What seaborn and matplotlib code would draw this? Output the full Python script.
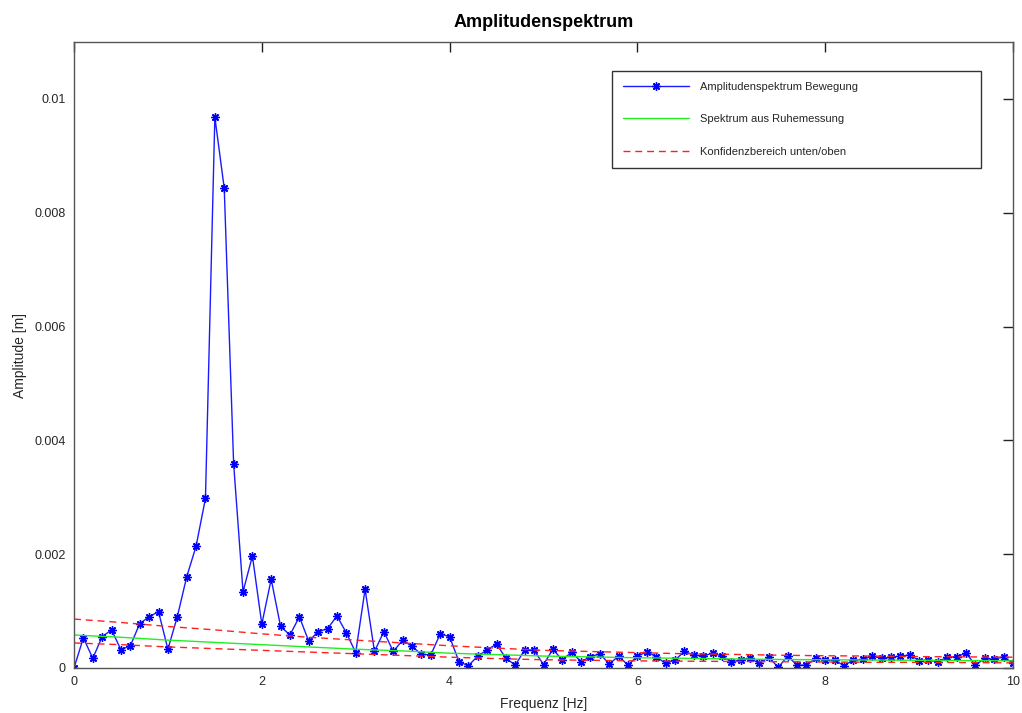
import numpy as np
import pandas as pd
import matplotlib
matplotlib.use("Agg")
import matplotlib.pyplot as plt
import seaborn as sns

# ---------------- data ----------------
freq_step = 0.1
# amplitude spectrum of the movement (values in 1e-3 m), 0 .. 10 Hz in 0.1 Hz steps
amp_mm = [0.00, 0.53, 0.17, 0.55, 0.67, 0.32, 0.39, 0.78, 0.90, 0.99,
          0.33, 0.90, 1.60, 2.14, 2.98, 9.68, 8.43, 3.59, 1.34, 1.97,
          0.77, 1.56, 0.73, 0.58, 0.90, 0.47, 0.64, 0.69, 0.915, 0.62,
          0.27, 1.385, 0.29, 0.64, 0.29, 0.49, 0.38, 0.24, 0.23, 0.60,
          0.55, 0.11, 0.04, 0.21, 0.32, 0.42, 0.17, 0.05, 0.32, 0.31,
          0.06, 0.33, 0.14, 0.28, 0.11, 0.20, 0.25, 0.07, 0.21, 0.05,
          0.21, 0.28, 0.20, 0.08, 0.14, 0.29, 0.23, 0.21, 0.26, 0.21,
          0.11, 0.14, 0.17, 0.08, 0.19, 0.01, 0.21, 0.05, 0.05, 0.17,
          0.14, 0.14, 0.04, 0.14, 0.15, 0.21, 0.17, 0.19, 0.21, 0.23,
          0.13, 0.14, 0.11, 0.19, 0.20, 0.26, 0.05, 0.17, 0.15, 0.20,
          0.08]

# rest-measurement spectrum and confidence band (values in 1e-3 m)
ref_freq = [0.0, 0.5, 1.0, 1.5, 2.0, 2.5, 3.0, 3.5, 4.0, 4.5, 5.0,
            5.5, 6.0, 6.5, 7.0, 7.5, 8.0, 8.5, 9.0, 9.5, 10.0]
rest_mm = [0.58, 0.54, 0.49, 0.45, 0.41, 0.37, 0.33, 0.30, 0.26, 0.235, 0.21,
           0.195, 0.18, 0.17, 0.16, 0.15, 0.145, 0.14, 0.135, 0.13, 0.125]
upper_mm = [0.86, 0.80, 0.73, 0.67, 0.60, 0.54, 0.49, 0.44, 0.39, 0.35, 0.31,
            0.29, 0.27, 0.25, 0.24, 0.225, 0.215, 0.21, 0.20, 0.195, 0.19]
lower_mm = [0.44, 0.41, 0.37, 0.34, 0.31, 0.28, 0.25, 0.22, 0.19, 0.165, 0.145,
            0.135, 0.125, 0.12, 0.115, 0.11, 0.105, 0.10, 0.10, 0.095, 0.09]

y_ticks = [0, 0.002, 0.004, 0.006, 0.008, 0.01]
y_tick_labels = ["0", "0.002", "0.004", "0.006", "0.008", "0.01"]
x_ticks = [0, 2, 4, 6, 8, 10]
x_tick_labels = ["0", "2", "4", "6", "8", "10"]

labels = ["Amplitudenspektrum Bewegung", "Spektrum aus Ruhemessung",
          "Konfidenzbereich unten/oben"]

# ---------------- frames ----------------
freq = np.round(np.arange(len(amp_mm)) * freq_step, 1)
df_amp = pd.DataFrame({"f": freq, "a": np.array(amp_mm) * 1e-3})
df_ref = pd.DataFrame({"f": ref_freq,
                       "rest": np.array(rest_mm) * 1e-3,
                       "up": np.array(upper_mm) * 1e-3,
                       "low": np.array(lower_mm) * 1e-3})

# ---------------- style ----------------
sns.set_theme(style="white")
plt.rcParams["font.family"] = ["Liberation Sans", "DejaVu Sans"]

fig = plt.figure(figsize=(10.22, 7.13), dpi=100)
ax = fig.add_axes([74 / 1022, 45 / 713, 939 / 1022, 626 / 713])

sns.lineplot(data=df_amp, x="f", y="a", ax=ax, color="#1a1aff", lw=1.0,
             marker=(8, 2, 0), markersize=6, markeredgewidth=1.0,
             markeredgecolor="#0000ff", label=labels[0], sort=False)
sns.lineplot(data=df_ref, x="f", y="rest", ax=ax, color="#22ee22", lw=1.0,
             label=labels[1], sort=False)
sns.lineplot(data=df_ref, x="f", y="up", ax=ax, color="#ff2020", lw=1.0,
             label=labels[2], sort=False)
sns.lineplot(data=df_ref, x="f", y="low", ax=ax, color="#ff2020", lw=1.0,
             sort=False)
for ln in ax.lines[2:4]:
    ln.set_linestyle((0, (5, 3.5)))

ax.set_xlim(0, 10)
ax.set_ylim(0, 0.011)
ax.set_xticks(x_ticks)
ax.set_xticklabels(x_tick_labels)
ax.set_yticks(y_ticks)
ax.set_yticklabels(y_tick_labels)

for s in ax.spines.values():
    s.set_visible(True)
    s.set_color("#555555")
    s.set_linewidth(1.0)
ax.tick_params(axis="both", which="major", direction="in", length=7,
               width=1.0, color="#222222", labelsize=9, labelcolor="#262626",
               top=True, right=True, pad=6)

ax.set_xlabel("Frequenz [Hz]", fontsize=10, color="#262626", labelpad=6)
ax.set_ylabel("Amplitude [m]", fontsize=10, color="#262626", labelpad=5)
ax.set_title("Amplitudenspektrum", fontsize=13, fontweight="bold",
             color="#000000", pad=11)

leg = ax.legend(loc="upper left",
                bbox_to_anchor=((612 - 74) / 939, (668 - 71) / 626, 369 / 939, 0),
                mode="expand", fontsize=8, frameon=True, fancybox=False,
                edgecolor="#333333", framealpha=1, handlelength=5.9,
                handletextpad=1.0, labelspacing=2.0, borderpad=1.0,
                borderaxespad=0, numpoints=1)
leg.get_frame().set_linewidth(1.0)
for ln in leg.get_lines()[2:3]:
    ln.set_linestyle((0, (5, 3.5)))
for t in leg.get_texts():
    t.set_color("#262626")

fig.savefig("out.png", dpi=100)
